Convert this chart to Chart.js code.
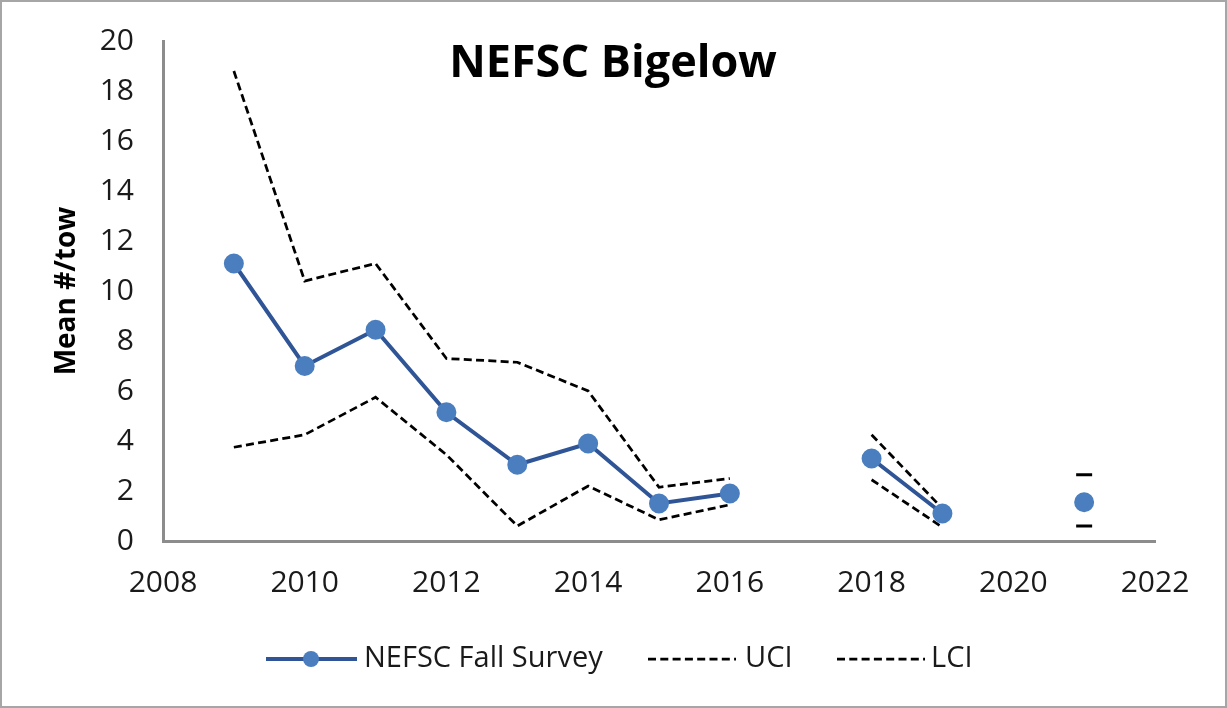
<!DOCTYPE html>
<html>
<head>
<meta charset="utf-8">
<script src="https://cdn.jsdelivr.net/npm/chart.js@4"></script>
<style>
  html, body { margin: 0; padding: 0; background: #fff; }
  #wrap { width: 1227px; height: 708px; }
</style>
</head>
<body>
<div id="wrap"><canvas id="chart"></canvas></div>
<script>
// Data (null = no survey that year)
const years = [2009, 2010, 2011, 2012, 2013, 2014, 2015, 2016, 2017, 2018, 2019, 2020, 2021];
const meanTow = [11.1, 7.0, 8.45, 5.15, 3.05, 3.9, 1.5, 1.9, null, 3.3, 1.1, null, 1.55];
const uci = [18.8, 10.4, 11.1, 7.3, 7.15, 6.0, 2.15, 2.5, null, 4.25, 1.3, null, 2.65];
const lci = [3.75, 4.25, 5.75, 3.45, 0.6, 2.2, 0.85, 1.45, null, 2.45, 0.55, null, 0.6];
const xTicks = [2008, 2010, 2012, 2014, 2016, 2018, 2020, 2022];
const yTicks = [0, 2, 4, 6, 8, 10, 12, 14, 16, 18, 20];

const FONT = "'Open Sans', 'Noto Sans', sans-serif";
const lineBlue = '#2F5597';
const dotBlue = '#4A7EBF';
const axisGrey = '#8C8C8C';

function toPoints(vals) {
  return years.map((y, i) => ({ x: y, y: vals[i] }));
}

// only a point with no neighbours gets a dash marker
function isolatedRadius(vals) {
  return ctx => {
    const i = ctx.dataIndex;
    if (vals[i] == null) return 0;
    const prev = i > 0 ? vals[i - 1] : null;
    const next = i < vals.length - 1 ? vals[i + 1] : null;
    return (prev == null && next == null) ? 8 : 0;
  };
}

const titleAndLegend = {
  id: 'titleAndLegend',
  afterDraw(chart) {
    const ctx = chart.ctx;
    ctx.save();
    // outer frame
    ctx.strokeStyle = '#A6A6A6';
    ctx.lineWidth = 2;
    ctx.strokeRect(1, 1, chart.width - 2, chart.height - 2);

    // title sits inside the plot area
    ctx.fillStyle = '#000';
    ctx.font = "bold 45px " + FONT;
    ctx.textAlign = 'center';
    ctx.textBaseline = 'middle';
    ctx.fillText('NEFSC Bigelow', 613, 64);

    // legend
    const ly = 659;
    ctx.font = "29px " + FONT;
    ctx.textAlign = 'left';

    ctx.strokeStyle = lineBlue;
    ctx.lineWidth = 4;
    ctx.beginPath(); ctx.moveTo(266, ly); ctx.lineTo(357, ly); ctx.stroke();
    ctx.fillStyle = dotBlue;
    ctx.beginPath(); ctx.arc(311, ly, 8, 0, Math.PI * 2); ctx.fill();
    ctx.fillStyle = '#1a1a1a';
    ctx.fillText('NEFSC Fall Survey', 364, ly);

    ctx.strokeStyle = '#000';
    ctx.lineWidth = 2.75;
    ctx.setLineDash([8, 4.3]);
    ctx.beginPath(); ctx.moveTo(648, ly); ctx.lineTo(736, ly); ctx.stroke();
    ctx.beginPath(); ctx.moveTo(837, ly); ctx.lineTo(925, ly); ctx.stroke();
    ctx.setLineDash([]);
    ctx.fillText('UCI', 745, ly);
    ctx.fillText('LCI', 931, ly);
    ctx.restore();
  }
};

const data = {
  datasets: [
    {
      label: 'NEFSC Fall Survey',
      data: toPoints(meanTow),
      borderColor: lineBlue,
      borderWidth: 4,
      pointBackgroundColor: dotBlue,
      pointBorderColor: dotBlue,
      pointRadius: 8,
      pointHoverRadius: 8,
      spanGaps: false,
      order: 0
    },
    {
      label: 'UCI',
      data: toPoints(uci),
      borderColor: '#000',
      borderWidth: 2.75,
      borderDash: [8, 4.3],
      pointStyle: 'line',
      pointBorderColor: '#000',
      pointBorderWidth: 3,
      pointRadius: isolatedRadius(uci),
      pointHoverRadius: isolatedRadius(uci),
      spanGaps: false,
      order: 1
    },
    {
      label: 'LCI',
      data: toPoints(lci),
      borderColor: '#000',
      borderWidth: 2.75,
      borderDash: [8, 4.3],
      pointStyle: 'line',
      pointBorderColor: '#000',
      pointBorderWidth: 3,
      pointRadius: isolatedRadius(lci),
      pointHoverRadius: isolatedRadius(lci),
      spanGaps: false,
      order: 2
    }
  ]
};

const options = {
  responsive: true,
  maintainAspectRatio: false,
  animation: false,
  layout: { padding: { left: 0, right: 72, top: 41, bottom: 0 } },
  plugins: {
    legend: { display: false },
    tooltip: { enabled: false }
  },
  scales: {
    x: {
      type: 'linear',
      min: 2008,
      max: 2022,
      afterFit: s => { s.height = 167; },
      afterBuildTicks: s => { s.ticks = xTicks.map(v => ({ value: v })); },
      grid: { display: false, drawTicks: false },
      border: { display: true, color: axisGrey, width: 3 },
      ticks: {
        padding: 24,
        color: '#1a1a1a',
        font: { family: FONT, size: 30 },
        callback: v => String(v)
      }
    },
    y: {
      min: 0,
      max: 20,
      // fixed width, and no extra top/bottom room for the tick labels
      afterFit: s => { s.width = 163; s.paddingTop = 0; s.paddingBottom = 0; },
      afterBuildTicks: s => { s.ticks = yTicks.map(v => ({ value: v })); },
      grid: { display: false, drawTicks: false },
      border: { display: true, color: axisGrey, width: 3 },
      ticks: {
        padding: 29,
        color: '#1a1a1a',
        font: { family: FONT, size: 30 }
      },
      title: {
        display: true,
        text: 'Mean #/tow',
        color: '#000',
        font: { family: FONT, size: 28, weight: 'bold' },
        padding: { top: 50, bottom: 0 }
      }
    }
  }
};

new Chart(document.getElementById('chart'), {
  type: 'line',
  data: data,
  options: options,
  plugins: [titleAndLegend]
});
</script>
</body>
</html>
